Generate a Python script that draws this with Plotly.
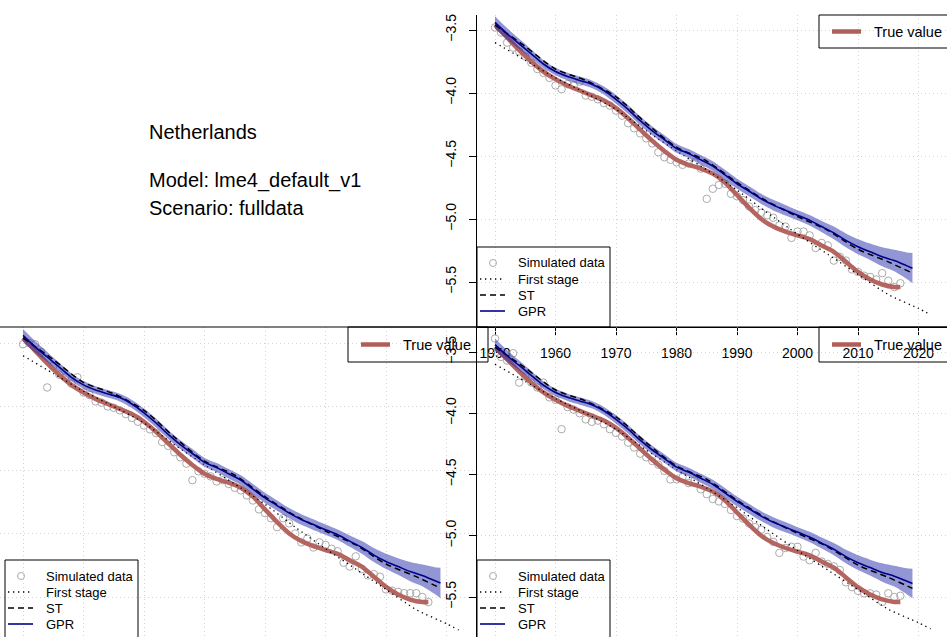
import plotly.graph_objects as go

W, H = 947, 637

# ---------------- data ----------------
true_years = [1950, 1952, 1954, 1956, 1958, 1960, 1962, 1964, 1966, 1968, 1970, 1972,
              1974, 1976, 1978, 1980, 1982, 1984, 1986, 1988, 1990, 1992, 1994, 1996,
              1998, 2000, 2002, 2004, 2006, 2008, 2010, 2012, 2014, 2016, 2017]
true_vals = [-3.46, -3.56, -3.66, -3.75, -3.83, -3.89, -3.94, -3.98, -4.02, -4.06, -4.12, -4.20,
             -4.29, -4.38, -4.46, -4.53, -4.57, -4.60, -4.64, -4.71, -4.81, -4.91, -5.00, -5.06,
             -5.10, -5.13, -5.16, -5.21, -5.26, -5.34, -5.42, -5.48, -5.52, -5.54, -5.54]

gpr_years = [1950, 1952, 1954, 1956, 1958, 1960, 1962, 1964, 1966, 1968, 1970, 1972,
             1974, 1976, 1978, 1980, 1982, 1984, 1986, 1988, 1990, 1992, 1994, 1996,
             1998, 2000, 2002, 2004, 2006, 2008, 2010, 2012, 2014, 2016, 2018, 2019]
gpr_vals = [-3.44, -3.53, -3.61, -3.69, -3.77, -3.83, -3.87, -3.90, -3.93, -3.98, -4.05, -4.13,
            -4.22, -4.30, -4.37, -4.44, -4.48, -4.53, -4.58, -4.65, -4.72, -4.78, -4.84, -4.89,
            -4.93, -4.97, -5.01, -5.06, -5.11, -5.17, -5.22, -5.26, -5.30, -5.33, -5.37, -5.39]
gpr_upper = [-3.39, -3.485, -3.57, -3.655, -3.738, -3.80, -3.84, -3.87, -3.90, -3.948, -4.015, -4.095,
             -4.185, -4.265, -4.335, -4.405, -4.445, -4.493, -4.542, -4.61, -4.68, -4.74, -4.80, -4.848,
             -4.888, -4.93, -4.968, -5.015, -5.06, -5.115, -5.16, -5.195, -5.225, -5.245, -5.265, -5.27]
gpr_lower = [-3.49, -3.575, -3.65, -3.725, -3.802, -3.86, -3.90, -3.93, -3.96, -4.012, -4.085, -4.165,
             -4.255, -4.335, -4.405, -4.475, -4.515, -4.567, -4.618, -4.69, -4.76, -4.82, -4.88, -4.932,
             -4.972, -5.01, -5.052, -5.105, -5.16, -5.225, -5.28, -5.325, -5.375, -5.415, -5.475, -5.51]

st_years = [1950, 1955, 1960, 1965, 1970, 1975, 1980, 1985, 1990, 1995, 2000, 2005, 2010, 2015, 2019]
st_vals = [-3.46, -3.63, -3.81, -3.90, -4.03, -4.24, -4.43, -4.54, -4.71, -4.86, -4.98, -5.09,
           -5.24, -5.34, -5.43]

fs_years = [1950, 1955, 1960, 1965, 1970, 1975, 1980, 1985, 1990, 1995, 2000, 2005, 2010, 2015,
            2020, 2022]
fs_vals = [-3.60, -3.74, -3.88, -4.00, -4.13, -4.30, -4.46, -4.61, -4.77, -4.95, -5.12, -5.28,
           -5.44, -5.60, -5.71, -5.76]

sim_years = list(range(1950, 2018))
sim_a = [-3.48, -3.52, -3.60, -3.64, -3.67, -3.71, -3.76, -3.81, -3.84, -3.88, -3.94, -3.97,
         -3.93, -3.94, -3.91, -4.02, -4.03, -4.05, -4.08, -4.10, -4.14, -4.18, -4.24, -4.28,
         -4.32, -4.36, -4.40, -4.47, -4.51, -4.53, -4.55, -4.57, -4.56, -4.55, -4.60, -4.84,
         -4.76, -4.73, -4.72, -4.80, -4.82, -4.85, -4.90, -4.93, -4.95, -4.97, -4.99, -5.05,
         -5.06, -5.15, -5.10, -5.10, -5.13, -5.23, -5.19, -5.21, -5.33, -5.30, -5.33, -5.40,
         -5.42, -5.45, -5.46, -5.48, -5.43, -5.49, -5.54, -5.51]
sim_b = [-3.51, -3.50, -3.51, -3.57, -3.85, -3.68, -3.75, -3.77, -3.82, -3.77, -3.89, -3.91,
         -3.96, -3.97, -4.00, -4.01, -4.03, -4.06, -4.09, -4.12, -4.15, -4.18, -4.21, -4.28,
         -4.31, -4.36, -4.40, -4.45, -4.58, -4.51, -4.53, -4.55, -4.59, -4.58, -4.61, -4.64,
         -4.66, -4.70, -4.74, -4.81, -4.84, -4.88, -4.95, -4.88, -4.92, -5.00, -5.07, -5.04,
         -5.11, -5.07, -5.09, -5.12, -5.14, -5.23, -5.26, -5.18, -5.28, -5.33, -5.32, -5.34,
         -5.44, -5.45, -5.46, -5.47, -5.47, -5.47, -5.50, -5.54]
sim_c = [-3.39, -3.54, -3.57, -3.51, -3.75, -3.70, -3.75, -3.79, -3.75, -3.87, -3.89, -4.13,
         -3.95, -3.97, -4.00, -4.05, -4.07, -4.06, -4.09, -4.13, -4.16, -4.19, -4.24, -4.28,
         -4.33, -4.36, -4.39, -4.42, -4.47, -4.54, -4.54, -4.52, -4.57, -4.55, -4.62, -4.66,
         -4.70, -4.72, -4.74, -4.79, -4.84, -4.86, -4.90, -4.93, -4.95, -5.01, -5.05, -5.14,
         -5.10, -5.09, -5.09, -5.17, -5.20, -5.14, -5.21, -5.23, -5.25, -5.28, -5.38, -5.42,
         -5.45, -5.47, -5.47, -5.48, -5.54, -5.47, -5.50, -5.49]

x_ticks = [1950, 1960, 1970, 1980, 1990, 2000, 2010, 2020]
y_ticks = [-3.5, -4.0, -4.5, -5.0, -5.5]
y_tick_text = ["\u22123.5", "\u22124.0", "\u22124.5", "\u22125.0", "\u22125.5"]

title_lines = ["Netherlands", "Model: lme4_default_v1", "Scenario: fulldata"]
legend_labels = ["Simulated data", "First stage", "ST", "GPR"]
true_label = "True value"

# ---------------- styles ----------------
FONT = "Liberation Sans, Arial, Helvetica, sans-serif"
RED = "rgb(178,94,88)"
BAND = "rgba(40,45,170,0.50)"
NAVY = "#00008b"
GREY = "#ababab"
GRID = "#d4d4d4"


def px(x):
    return x / W


def py(y):
    return 1 - y / H


fig = go.Figure()

panels = [("x", "y", sim_a), ("x2", "y2", sim_b), ("x3", "y3", sim_c)]
for xa, ya, sim in panels:
    fig.add_trace(go.Scatter(x=sim_years, y=sim, mode="markers", xaxis=xa, yaxis=ya,
                             marker=dict(symbol="circle-open", size=7.5, color=GREY,
                                         line=dict(width=1, color=GREY)),
                             showlegend=False, hoverinfo="skip"))
    fig.add_trace(go.Scatter(x=true_years, y=true_vals, mode="lines", xaxis=xa, yaxis=ya,
                             line=dict(color=RED, width=4.5, shape="spline", smoothing=0.8),
                             opacity=0.95, showlegend=False, hoverinfo="skip"))
    fig.add_trace(go.Scatter(x=fs_years, y=fs_vals, mode="lines", xaxis=xa, yaxis=ya,
                             line=dict(color="black", width=1.3, dash="1.3px,3.7px",
                                       shape="spline", smoothing=0.6),
                             showlegend=False, hoverinfo="skip"))
    fig.add_trace(go.Scatter(x=gpr_years, y=gpr_upper, mode="lines", xaxis=xa, yaxis=ya,
                             line=dict(width=0, shape="spline", smoothing=0.8),
                             showlegend=False, hoverinfo="skip"))
    fig.add_trace(go.Scatter(x=gpr_years, y=gpr_lower, mode="lines", xaxis=xa, yaxis=ya,
                             line=dict(width=0, shape="spline", smoothing=0.8),
                             fill="tonexty", fillcolor=BAND,
                             showlegend=False, hoverinfo="skip"))
    fig.add_trace(go.Scatter(x=st_years, y=st_vals, mode="lines", xaxis=xa, yaxis=ya,
                             line=dict(color="black", width=1.5, dash="6px,4px",
                                       shape="spline", smoothing=0.8),
                             showlegend=False, hoverinfo="skip"))
    fig.add_trace(go.Scatter(x=gpr_years, y=gpr_vals, mode="lines", xaxis=xa, yaxis=ya,
                             line=dict(color=NAVY, width=1.6, shape="spline", smoothing=0.8),
                             showlegend=False, hoverinfo="skip"))

# x ranges: 1950 at +18 px from panel left, 6.05 px per year
xr_right = [1950 - 18 / 6.05, 1950 + 452 / 6.05]
xr_left = [1950 - 23 / 6.05, 1950 + 454 / 6.05]

grid = dict(showgrid=True, gridcolor=GRID, griddash="1px,3px", gridwidth=1, zeroline=False)
tickfont = dict(family=FONT, size=14, color="black")

fig.update_layout(
    width=W, height=H, autosize=False,
    margin=dict(l=0, r=0, t=0, b=0, pad=0),
    paper_bgcolor="white", plot_bgcolor="rgba(0,0,0,0)",
    showlegend=False,
    font=dict(family=FONT, color="black"),
    xaxis=dict(domain=[px(477), 1], anchor="y", range=xr_right, tickvals=x_ticks,
               ticks="outside", ticklen=7, tickcolor="black", showline=True,
               linecolor="black", linewidth=1, tickfont=tickfont, ticklabelstandoff=6, **grid),
    yaxis=dict(domain=[py(327), py(15)], anchor="x",
               range=[-3.5 - 297 / 126, -3.5 + 15 / 126],
               tickvals=y_ticks, ticktext=y_tick_text, tickangle=-90,
               ticks="outside", ticklen=7, tickcolor="black", showline=True,
               linecolor="black", linewidth=1, tickfont=tickfont, ticklabelstandoff=7, **grid),
    xaxis2=dict(domain=[0, px(477)], anchor="y2", range=xr_left, tickvals=x_ticks,
                showticklabels=False, ticks="", showline=False, **grid),
    yaxis2=dict(domain=[0, py(327)], anchor="x2",
                range=[-3.5 - 294 / 127, -3.5 + 16 / 127], tickvals=y_ticks,
                showticklabels=False, ticks="", showline=False, **grid),
    xaxis3=dict(domain=[px(477), 1], anchor="y3", range=xr_right, tickvals=x_ticks,
                showticklabels=False, ticks="", showline=False, **grid),
    yaxis3=dict(domain=[0, py(327)], anchor="x3",
                range=[-3.5 - 285 / 122.5, -3.5 + 25 / 122.5],
                tickvals=y_ticks, ticktext=y_tick_text, tickangle=-90,
                ticks="outside", ticklen=7, tickcolor="black", showline=True,
                linecolor="black", linewidth=1, tickfont=tickfont, ticklabelstandoff=7, **grid),
)

shapes = []
annots = []

# full-width separator line
shapes.append(dict(type="line", xref="paper", yref="paper", x0=0, x1=1, y0=py(327), y1=py(327),
                   line=dict(color="black", width=1)))


def box(x0, y0, x1, y1):
    shapes.append(dict(type="rect", xref="paper", yref="paper", x0=px(x0), x1=px(x1),
                       y0=py(y1), y1=py(y0), line=dict(color="black", width=1),
                       fillcolor="rgba(0,0,0,0)"))


def seg(x0, x1, y, color, width, dash="solid"):
    shapes.append(dict(type="line", xref="paper", yref="paper", x0=px(x0), x1=px(x1),
                       y0=py(y), y1=py(y), line=dict(color=color, width=width, dash=dash)))


def label(x, y, text, size):
    annots.append(dict(xref="paper", yref="paper", x=px(x), y=py(y), text=text,
                       showarrow=False, xanchor="left", yanchor="middle",
                       font=dict(family=FONT, size=size, color="black")))


def big_legend(left, top, bottom):
    box(left, top, left + 133, bottom)
    ys = [top + 16, top + 32, top + 48, top + 64]
    r = 3.5
    cx = left + 16
    shapes.append(dict(type="circle", xref="paper", yref="paper",
                       x0=px(cx - r), x1=px(cx + r), y0=py(ys[0] + r), y1=py(ys[0] - r),
                       line=dict(color=GREY, width=1)))
    seg(left + 3, left + 28, ys[1], "black", 1.3, "1.3px,3.7px")
    seg(left + 3, left + 28, ys[2], "black", 1.5, "6px,4px")
    seg(left + 3, left + 28, ys[3], NAVY, 1.6)
    for yy, t in zip(ys, legend_labels):
        label(left + 39, yy, t, 13)


def true_legend(left, top, bottom):
    box(left, top, left + 140, bottom)
    yc = (top + bottom) / 2
    seg(left + 13, left + 42, yc, RED, 4.5)
    label(left + 53, yc, true_label, 14.5)


big_legend(477, 247, 327)
big_legend(5, 560, 650)
big_legend(477, 560, 650)
true_legend(819, 15, 48)
true_legend(348, 327, 362)
true_legend(819, 327, 362)

for txt, yy in zip(title_lines, [132, 181, 208]):
    label(147, yy, txt, 20)

fig.update_layout(shapes=shapes, annotations=annots)

fig.write_html("out.html", config={"displayModeBar": False})
